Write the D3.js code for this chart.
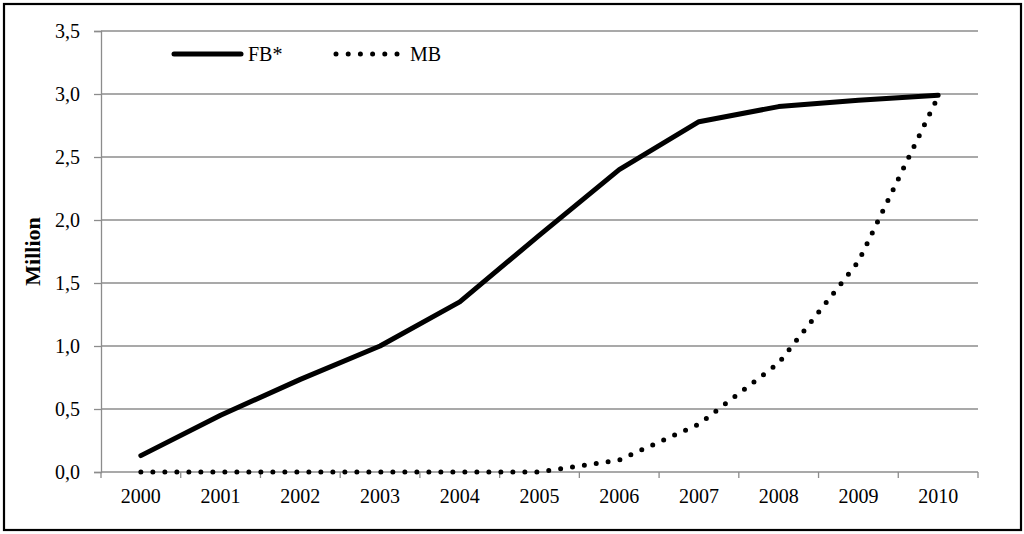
<!DOCTYPE html>
<html>
<head>
<meta charset="utf-8">
<script src="https://cdn.jsdelivr.net/npm/d3@7"></script>
<style>
  html, body { margin: 0; padding: 0; background: #fff; }
  svg { display: block; }
  text { font-family: "Liberation Serif", "Times New Roman", serif; fill: #000; }
</style>
</head>
<body>
<svg id="chart" width="1024" height="534"></svg>
<script>
const years = ["2000","2001","2002","2003","2004","2005","2006","2007","2008","2009","2010"];
const fbValues = [0.13, 0.45, 0.735, 1.0, 1.35, 1.88, 2.40, 2.78, 2.90, 2.95, 2.99];
const mbValues = [0, 0, 0, 0, 0, 0, 0.095, 0.38, 0.865, 1.67, 2.98];
const yTicks = [0, 0.5, 1.0, 1.5, 2.0, 2.5, 3.0, 3.5];
const seriesNames = ["FB*", "MB"];
const yTitle = "Million";

const svg = d3.select("#chart");
const plot = { left: 101, right: 978, top: 31, bottom: 472 };

svg.append("rect").attr("x", 4).attr("y", 4).attr("width", 1017).attr("height", 526)
  .attr("fill", "#fff").attr("stroke", "#000").attr("stroke-width", 2.2);

const x = d3.scaleBand().domain(years).range([plot.left, plot.right]).padding(0);
const y = d3.scaleLinear().domain([0, 3.5]).range([plot.bottom, plot.top]);

const fmt = v => d3.format(".1f")(v).replace(".", ",");

// gridlines
svg.append("g").selectAll("line").data(yTicks.filter(t => t > 0)).join("line")
  .attr("x1", plot.left).attr("x2", plot.right)
  .attr("y1", d => y(d)).attr("y2", d => y(d))
  .attr("stroke", "#8c8c8c").attr("stroke-width", 1.3);

// y axis
const yAxis = svg.append("g").attr("transform", `translate(${plot.left},0)`)
  .call(d3.axisLeft(y).tickValues(yTicks).tickFormat(fmt).tickSize(7).tickPadding(14));
yAxis.select(".domain").attr("stroke", "#8c8c8c").attr("stroke-width", 1.3);
yAxis.selectAll(".tick line").attr("stroke", "#8c8c8c").attr("stroke-width", 1.3);
yAxis.selectAll(".tick text").attr("font-size", 20).attr("font-family", "Liberation Serif").attr("fill", "#000");

// x axis
const xAxis = svg.append("g").attr("transform", `translate(0,${plot.bottom})`)
  .call(d3.axisBottom(x).tickSize(0).tickPadding(17));
xAxis.select(".domain").remove();
svg.append("line").attr("x1", plot.left).attr("x2", plot.right)
  .attr("y1", plot.bottom).attr("y2", plot.bottom)
  .attr("stroke", "#8c8c8c").attr("stroke-width", 1.3);
const bounds = years.map(d => x(d)).concat([x(years[years.length - 1]) + x.bandwidth()]);
svg.append("g").selectAll("line").data(bounds).join("line")
  .attr("x1", d => d).attr("x2", d => d)
  .attr("y1", plot.bottom).attr("y2", plot.bottom + 6)
  .attr("stroke", "#8c8c8c").attr("stroke-width", 1.3);
xAxis.selectAll(".tick text").attr("font-size", 20).attr("font-family", "Liberation Serif").attr("fill", "#000");

// y title
svg.append("text")
  .attr("transform", `translate(40,${(plot.top + plot.bottom) / 2}) rotate(-90)`)
  .attr("text-anchor", "middle")
  .attr("font-size", 22).attr("font-weight", "bold")
  .text(yTitle);

const cx = d => x(d) + x.bandwidth() / 2;
const line = d3.line().x((d, i) => cx(years[i])).y(d => y(d));

// MB dotted
svg.append("path").datum(mbValues).attr("d", line)
  .attr("fill", "none").attr("stroke", "#000").attr("stroke-width", 5)
  .attr("stroke-linecap", "round").attr("stroke-dasharray", "0,12");

// FB solid
svg.append("path").datum(fbValues).attr("d", line)
  .attr("fill", "none").attr("stroke", "#000").attr("stroke-width", 5)
  .attr("stroke-linecap", "round").attr("stroke-linejoin", "round");

// legend
const lg = svg.append("g");
lg.append("line").attr("x1", 174).attr("x2", 241).attr("y1", 54).attr("y2", 54)
  .attr("stroke", "#000").attr("stroke-width", 5).attr("stroke-linecap", "round");
lg.append("text").attr("x", 248).attr("y", 61).attr("font-size", 20).text(seriesNames[0]);
lg.append("line").attr("x1", 336).attr("x2", 397).attr("y1", 54).attr("y2", 54)
  .attr("stroke", "#000").attr("stroke-width", 5).attr("stroke-linecap", "round")
  .attr("stroke-dasharray", "0,12.2");
lg.append("text").attr("x", 410).attr("y", 61).attr("font-size", 20).text(seriesNames[1]);
</script>
</body>
</html>
